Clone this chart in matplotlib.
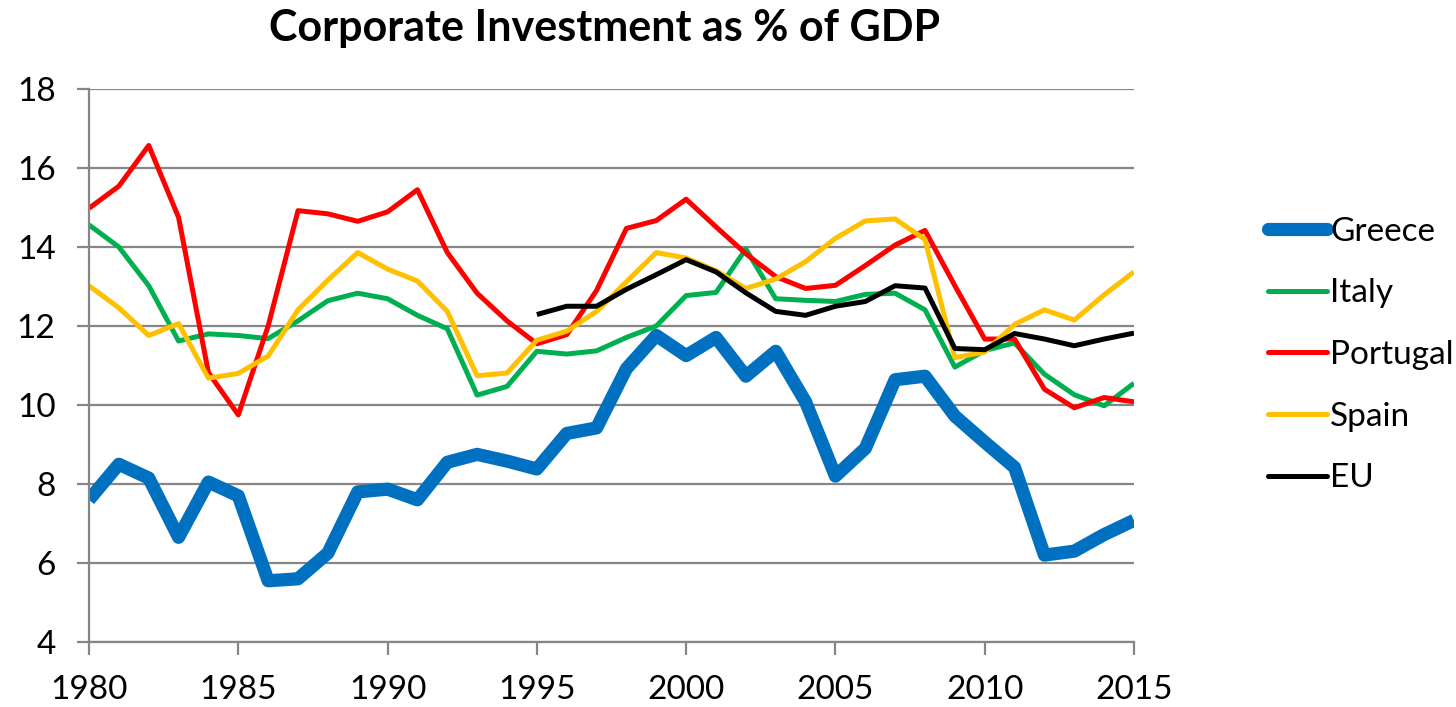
import numpy as np
import matplotlib
matplotlib.use("Agg")
import matplotlib.pyplot as plt

years = list(range(1980, 2016))

greece = [7.6, 8.5, 8.15, 6.65, 8.05, 7.7, 5.55, 5.6, 6.25, 7.8,
          7.87, 7.6, 8.55, 8.75, 8.58, 8.38, 9.28, 9.42, 10.92, 11.76,
          11.25, 11.71, 10.73, 11.36, 10.08, 8.2, 8.9, 10.64, 10.73, 9.72,
          9.06, 8.42, 6.2, 6.3, 6.72, 7.08]
italy = [14.56, 14.0, 13.02, 11.62, 11.8, 11.76, 11.68, 12.13, 12.64, 12.83,
         12.69, 12.27, 11.93, 10.25, 10.47, 11.36, 11.29, 11.37, 11.71, 12.0,
         12.77, 12.85, 13.95, 12.69, 12.65, 12.62, 12.8, 12.83, 12.41, 10.96,
         11.38, 11.57, 10.78, 10.26, 9.98, 10.55]
portugal = [14.98, 15.54, 16.57, 14.75, 10.82, 9.75, 12.0, 14.92, 14.84, 14.65,
            14.89, 15.45, 13.86, 12.83, 12.13, 11.55, 11.78, 12.9, 14.47, 14.67,
            15.21, 14.51, 13.83, 13.25, 12.95, 13.03, 13.53, 14.05, 14.42, 13.02,
            11.67, 11.67, 10.4, 9.93, 10.19, 10.08]
spain = [13.02, 12.46, 11.76, 12.06, 10.68, 10.8, 11.24, 12.41, 13.16, 13.86,
         13.44, 13.14, 12.37, 10.74, 10.81, 11.64, 11.87, 12.37, 13.12, 13.86,
         13.72, 13.4, 12.95, 13.19, 13.63, 14.22, 14.66, 14.71, 14.19, 11.2,
         11.34, 12.04, 12.41, 12.15, 12.79, 13.37]
eu = [np.nan] * 15 + [12.29, 12.5, 12.5, 12.93, 13.3,
                      13.68, 13.37, 12.84, 12.37, 12.27, 12.5, 12.62, 13.02, 12.96, 11.43,
                      11.4, 11.81, 11.67, 11.5, 11.67, 11.82]

series = [("Greece", greece, "#0070C0", 9.5),
          ("Italy", italy, "#00B050", 3.6),
          ("Portugal", portugal, "#FF0000", 3.6),
          ("Spain", spain, "#FFC000", 3.6),
          ("EU", eu, "#000000", 3.6)]

plt.rcParams["font.family"] = ["Lato", "DejaVu Sans"]

fig = plt.figure(figsize=(14.56, 7.07), dpi=100)
ax = fig.add_axes([89/1456, 1-642/707, (1134-89)/1456, (642-89)/707])

for name, vals, col, lw in series:
    ax.plot(years, vals, color=col, lw=lw, label=name,
            solid_joinstyle="round", solid_capstyle="butt")

ax.set_xlim(1980, 2015)
ax.set_ylim(4, 18)
ax.set_xticks(range(1980, 2016, 5))
ax.set_yticks(range(4, 19, 2))
ax.yaxis.grid(True, color="#868686", lw=1.6)
ax.set_axisbelow(True)
for s in ["top", "right"]:
    ax.spines[s].set_visible(False)
for s in ["left", "bottom"]:
    ax.spines[s].set_color("#868686")
    ax.spines[s].set_linewidth(1.6)
ax.tick_params(axis="both", colors="#868686", width=1.6, length=9,
               labelsize=24, labelcolor="black")
ax.tick_params(axis="x", pad=15)
ax.tick_params(axis="y", pad=15)

fig.text(605/1456, 1-28/707, "Corporate Investment as % of GDP",
         ha="center", va="center", fontsize=31, fontweight="bold")

leg = ax.legend(loc="center left", bbox_to_anchor=(1255/1456, 1-355/707),
                bbox_transform=fig.transFigure, frameon=False, fontsize=24,
                handlelength=1.75, handletextpad=0.1, labelspacing=0.95,
                borderaxespad=0)
for h in leg.get_lines():
    h.set_solid_capstyle("round")

fig.savefig("out.png", dpi=100)
